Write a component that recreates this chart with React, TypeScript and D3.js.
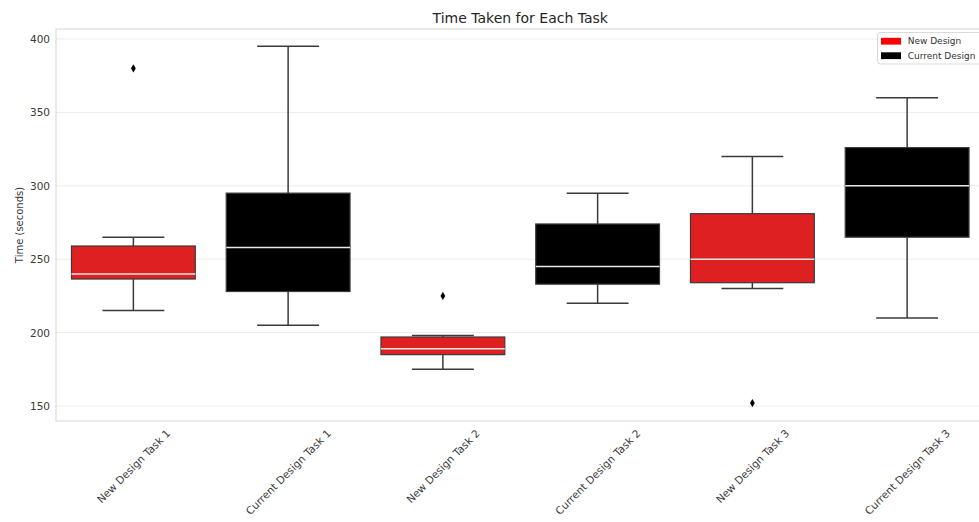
import React, { useMemo } from "react";
import * as d3 from "d3";

const categories = [
  "New Design Task 1",
  "Current Design Task 1",
  "New Design Task 2",
  "Current Design Task 2",
  "New Design Task 3",
  "Current Design Task 3",
];
const groups = ["new", "current", "new", "current", "new", "current"];
const whiskerLow = [215, 205, 175, 220, 230, 210];
const q1 = [236.5, 228, 185, 233, 234, 265];
const median = [240, 258, 189, 245, 250, 300];
const q3 = [259, 295, 197, 274, 281, 326];
const whiskerHigh = [265, 395, 198, 295, 320, 360];
const outliers = [[380], [], [225], [], [152], []];
const yTicks = [150, 200, 250, 300, 350, 400];
const legendLabels = ["New Design", "Current Design"];

const W = 979;
const H = 522;
const FONT = "DejaVu Sans, sans-serif";

function measure(text: string, size: number): number {
  if (typeof document === "undefined") return text.length * size * 0.58;
  const c = document.createElement("canvas");
  const ctx = c.getContext("2d");
  if (!ctx) return text.length * size * 0.58;
  ctx.font = `${size}px "DejaVu Sans"`;
  return ctx.measureText(text).width;
}

export default function App() {
  const left = 56;
  const top = 29;
  const bottom = 421;
  const step = 154.75;
  const right = left + step * categories.length;

  const x = d3
    .scaleBand<string>()
    .domain(categories)
    .range([left, right])
    .paddingInner(0)
    .paddingOuter(0);
  const y = d3.scaleLinear().domain([139.8, 406.8]).range([bottom, top]);

  const boxW = x.bandwidth() * 0.8;
  const capW = boxW * 0.5;
  const fillFor = (g: string) => (g === "new" ? "#df2020" : "#000000");
  const edge = "#3a3a3a";

  const tickFont = 10.5;
  const labelDims = useMemo(
    () => categories.map((c) => measure(c, tickFont)),
    []
  );

  const diamond = d3.symbol().type(d3.symbolDiamond).size(22)() as string;

  return (
    <svg
      width={W}
      height={H}
      style={{ position: "absolute", left: 0, top: 0, display: "block", background: "#fff" }}
      fontFamily={FONT}
    >
      <rect x={0} y={0} width={W} height={H} fill="#fff" />
      {yTicks.map((t) => (
        <line
          key={"g" + t}
          x1={left}
          x2={right}
          y1={y(t)}
          y2={y(t)}
          stroke="#ebebeb"
          strokeWidth={1}
        />
      ))}
      <rect
        x={left}
        y={top}
        width={right - left}
        height={bottom - top}
        fill="none"
        stroke="#d6d6d6"
        strokeWidth={1}
      />
      {categories.map((c, i) => {
        const cx = (x(c) as number) + x.bandwidth() / 2;
        return (
          <g key={c}>
            <line x1={cx} x2={cx} y1={y(q3[i])} y2={y(whiskerHigh[i])} stroke={edge} strokeWidth={1.5} />
            <line x1={cx} x2={cx} y1={y(q1[i])} y2={y(whiskerLow[i])} stroke={edge} strokeWidth={1.5} />
            <line x1={cx - capW / 2} x2={cx + capW / 2} y1={y(whiskerHigh[i])} y2={y(whiskerHigh[i])} stroke={edge} strokeWidth={1.5} />
            <line x1={cx - capW / 2} x2={cx + capW / 2} y1={y(whiskerLow[i])} y2={y(whiskerLow[i])} stroke={edge} strokeWidth={1.5} />
            <rect
              x={cx - boxW / 2}
              y={y(q3[i])}
              width={boxW}
              height={y(q1[i]) - y(q3[i])}
              fill={fillFor(groups[i])}
              stroke={edge}
              strokeWidth={1.2}
            />
            <line
              x1={cx - boxW / 2}
              x2={cx + boxW / 2}
              y1={y(median[i])}
              y2={y(median[i])}
              stroke="#e8e8e8"
              strokeWidth={1.5}
            />
            {outliers[i].map((o, k) => (
              <path
                key={k}
                d={diamond}
                transform={`translate(${cx},${y(o)}) scale(0.95,0.95)`}
                fill="#000"
              />
            ))}
          </g>
        );
      })}
      {yTicks.map((t) => (
        <text
          key={"t" + t}
          x={left - 6}
          y={y(t)}
          textAnchor="end"
          dominantBaseline="central"
          fontSize={tickFont}
          fill="#3a3a3a"
        >
          {t}
        </text>
      ))}
      {categories.map((c, i) => {
        const cx = (x(c) as number) + x.bandwidth() / 2;
        const w = labelDims[i];
        const h = tickFont * 1.16;
        const half = ((w + h) * Math.SQRT1_2) / 2;
        const cy = 427 + half;
        return (
          <text
            key={"x" + c}
            transform={`translate(${cx},${cy}) rotate(-45)`}
            textAnchor="middle"
            dominantBaseline="central"
            fontSize={tickFont}
            fill="#3a3a3a"
          >
            {c}
          </text>
        );
      })}
      <text
        transform={`translate(19,${(top + bottom) / 2}) rotate(-90)`}
        textAnchor="middle"
        dominantBaseline="central"
        fontSize={10}
        fill="#3a3a3a"
      >
        Time (seconds)
      </text>
      <text
        x={(left + right) / 2}
        y={23}
        textAnchor="middle"
        fontSize={14}
        fill="#262626"
      >
        Time Taken for Each Task
      </text>
      <g>
        <rect
          x={877.5}
          y={32.5}
          width={104}
          height={31.5}
          rx={2.5}
          fill="#fff"
          fillOpacity={0.85}
          stroke="#d9d9d9"
          strokeWidth={1}
        />
        {legendLabels.map((l, i) => (
          <g key={l} transform={`translate(0,${i * 14.5})`}>
            <rect x={881} y={37.8} width={20} height={6.8} fill={i === 0 ? "#ff0000" : "#000000"} />
            <text x={907.7} y={41.2} dominantBaseline="central" fontSize={9} fill="#333">
              {l}
            </text>
          </g>
        ))}
      </g>
    </svg>
  );
}
